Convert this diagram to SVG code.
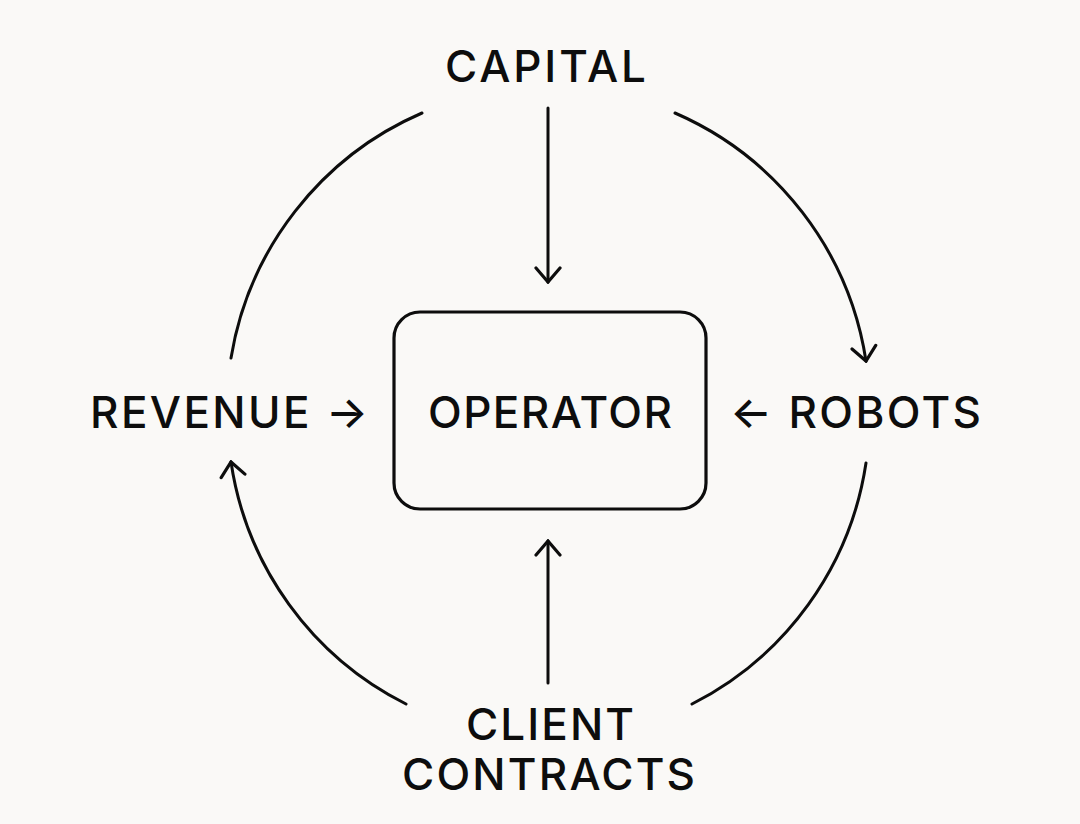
<svg xmlns="http://www.w3.org/2000/svg" width="1080" height="824" viewBox="0 0 1080 824">
<style>
.lbl{font-family:Inter,"Liberation Sans",sans-serif;font-size:44px;font-weight:500;fill:#0d0d0d;letter-spacing:2px}
.ln{fill:none;stroke:#0d0d0d;stroke-width:3;stroke-linecap:round}
.box{fill:none;stroke:#0d0d0d;stroke-width:3.2}
</style>
<defs>
<marker id="ah" viewBox="-16 -14 18 28" markerWidth="18" markerHeight="28" refX="0" refY="0" orient="auto" markerUnits="userSpaceOnUse">
<path d="M-14,-12 L0,0 L-14,12" fill="none" stroke="#0d0d0d" stroke-width="3.2" stroke-linecap="round" stroke-linejoin="miter"/>
</marker>
</defs>
<rect width="1080" height="824" fill="#faf9f7"/>
<g id="connectors">
<line class="ln" x1="548" y1="108" x2="548" y2="282" marker-end="url(#ah)"/>
<line class="ln" x1="548" y1="683" x2="548" y2="541" marker-end="url(#ah)"/>
<path class="ln" d="M422,113 A324,324 0 0 0 231,358"/>
<path class="ln" d="M675,113 A324,324 0 0 1 866,361" marker-end="url(#ah)"/>
<path class="ln" d="M866,463 A324,324 0 0 1 692,704"/>
<path class="ln" d="M406,704 A324,324 0 0 1 231,462" marker-end="url(#ah)"/>
</g>
<g id="capital"><text class="lbl" x="445" y="82" textLength="203" lengthAdjust="spacing">CAPITAL</text></g>
<g id="operator">
<rect class="box" x="394" y="312" width="312" height="197" rx="26"/>
<text class="lbl" x="428" y="428" textLength="246" lengthAdjust="spacing">OPERATOR</text>
</g>
<g id="revenue"><text class="lbl" x="90" y="428" textLength="280" lengthAdjust="spacing">REVENUE →</text></g>
<g id="robots"><text class="lbl" x="730" y="428" textLength="253" lengthAdjust="spacing">← ROBOTS</text></g>
<g id="client-contracts">
<text class="lbl" x="466" y="740" textLength="170" lengthAdjust="spacing">CLIENT</text>
<text class="lbl" x="402" y="790" textLength="295" lengthAdjust="spacing">CONTRACTS</text>
</g>
</svg>
